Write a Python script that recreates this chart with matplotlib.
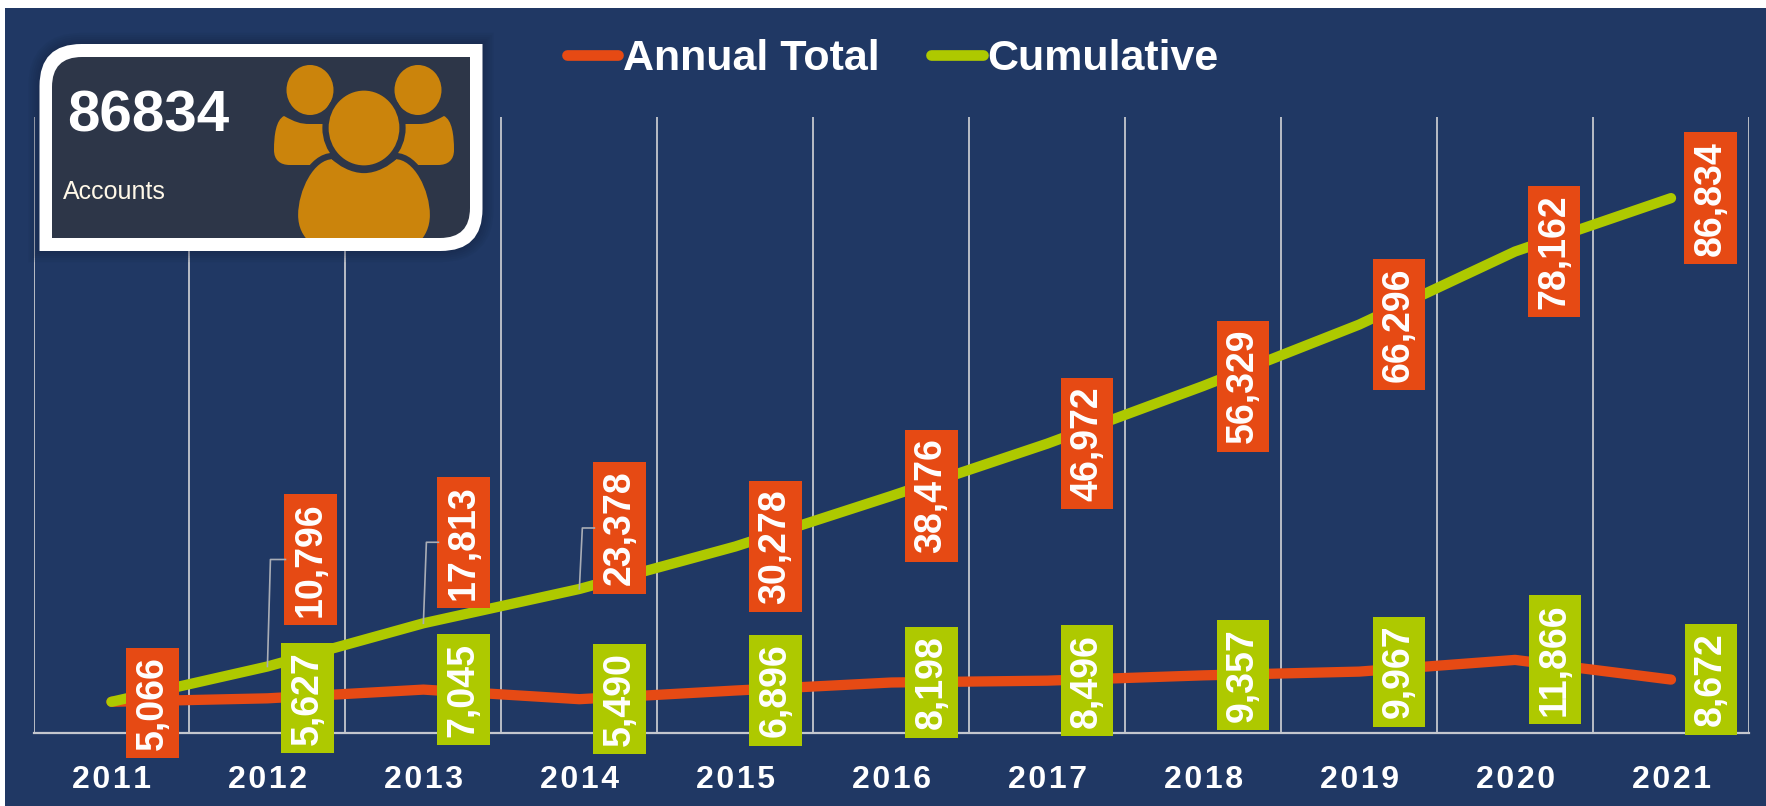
import matplotlib
matplotlib.use("Agg")
import matplotlib.pyplot as plt
from matplotlib.patches import Ellipse, PathPatch, Rectangle
from matplotlib.path import Path

years = ["2011", "2012", "2013", "2014", "2015", "2016", "2017", "2018", "2019", "2020", "2021"]
annual = [5066, 5627, 7045, 5490, 6896, 8198, 8496, 9357, 9967, 11866, 8672]
cumulative = [5066, 10796, 17813, 23378, 30278, 38476, 46972, 56329, 66296, 78162, 86834]

W, H = 1766, 806
NAVY = "#203864"
RED = "#E64A14"
GREEN = "#AEC900"
CARD = "#2D3648"
GOLD = "#CB840C"
GRID = "#C4C7CE"

plt.rcParams["font.family"] = ["Liberation Sans", "DejaVu Sans"]

fig = plt.figure(figsize=(W / 100, H / 100), dpi=100, facecolor="white")

# overlay in pixel coords for background and the card
bg = fig.add_axes([0, 0, 1, 1], zorder=0)
bg.set_xlim(0, W)
bg.set_ylim(H, 0)
bg.axis("off")
bg.add_patch(Rectangle((4.5, 8), W, H, color=NAVY, lw=0))

# main chart, y 0..100000 between pixel rows 733 and 117
ax = fig.add_axes([33.5 / W, 1 - 733 / H, 1715.5 / W, 616 / H], zorder=1)
ax.patch.set_visible(False)
x = [i + 0.5 for i in range(len(years))]
ax.set_xlim(0, 11)
ax.set_ylim(0, 100000)
ax.set_yticks([])
ax.set_xticks(range(12))
ax.set_xticklabels([])
ax.tick_params(axis="x", which="major", length=0)
ax.set_xticks(x, minor=True)
ax.set_xticklabels(["\u200a".join(y) for y in years], minor=True, color="white",
                   fontweight="bold", fontsize=23)
ax.tick_params(axis="x", which="minor", length=0, pad=23)
ax.grid(axis="x", color=GRID, lw=1.3)
ax.set_axisbelow(True)
for s in ["top", "right", "left"]:
    ax.spines[s].set_visible(False)
ax.spines["bottom"].set_color(GRID)
ax.spines["bottom"].set_linewidth(1.6)

ax.plot(x, annual, color=RED, lw=7.4, solid_capstyle="round", solid_joinstyle="round",
        label="Annual Total", zorder=3)
ax.plot(x, cumulative, color=GREEN, lw=7.4, solid_capstyle="round", solid_joinstyle="round",
        label="Cumulative", zorder=4)

leg = fig.legend(*ax.get_legend_handles_labels(), ncol=2, frameon=False,
                 labelcolor="white", prop={"weight": "bold", "size": 31},
                 handlelength=1.19, handletextpad=0.12, columnspacing=1.19,
                 loc="center", bbox_to_anchor=(893 / W, 1 - 59 / H))
leg.set_zorder(5)
for h in leg.get_lines():
    h.set_linewidth(7.7)


def box_label(xp, yp, value, color, dy=0, dx=40):
    ax.annotate(f"{value:,}", (xp, yp), xytext=(dx, -dy), textcoords="offset pixels",
                rotation=90, ha="center", va="center", rotation_mode="default",
                color="white", fontweight="bold", fontsize=27, zorder=6,
                bbox=dict(boxstyle="square,pad=0.22", fc=color, ec="none"))


# labels sit 40 px right of their point, three were dragged up with leader lines
red_dy = [1, -107, -81, -61, 0, 0, 0, 0, 0, 0, 0]
red_dx = [41, 43, 40, 40, 40, 40, 40, 40, 40, 39, 39.5]
for xp, v, dy, dx in zip(x, cumulative, red_dy, red_dx):
    box_label(xp, v, v, RED, dy, dx)
for xp, v in zip(x[1:], annual[1:]):
    box_label(xp, v, v, GREEN)

# leader lines, from the data point up to the box edge
for i, dy, dx in [(1, -107, 43), (2, -81, 40), (3, -61, 40)]:
    px, py = ax.transData.transform((x[i], cumulative[i]))
    py = H - py
    bg_line = [(px, py), (px + 3, py + dy), (px + dx - 25, py + dy)]
    fig.add_artist(plt.Line2D([p[0] / W for p in bg_line], [1 - p[1] / H for p in bg_line],
                              color="#A9ADB5", lw=1.2, zorder=2))

# card on its own axes above the chart
cd = fig.add_axes([0, 0, 1, 1], zorder=4)
cd.set_xlim(0, W)
cd.set_ylim(H, 0)
cd.axis("off")
cd.patch.set_visible(False)


def card_path(x0, y0, x1, y1, r):
    verts = [(x0 + r, y0), (x1, y0), (x1, y1 - r), (x1, y1), (x1 - r, y1), (x0, y1),
             (x0, y0 + r), (x0, y0), (x0 + r, y0), (x0 + r, y0)]
    codes = [Path.MOVETO, Path.LINETO, Path.LINETO, Path.CURVE3, Path.CURVE3, Path.LINETO,
             Path.LINETO, Path.CURVE3, Path.CURVE3, Path.CLOSEPOLY]
    return Path(verts, codes)


for grow in range(16, 0, -3):
    cd.add_patch(PathPatch(card_path(39.5, 44, 482.5, 251, 42), fc="none", ec="#101C38",
                           lw=grow, alpha=0.07))
cd.add_patch(PathPatch(card_path(39.5, 44, 482.5, 251, 42), fc="white", ec="none"))
inner = PathPatch(card_path(52, 57, 470, 238, 30), fc=CARD, ec="none")
cd.add_patch(inner)

cd.text(67, 132, "86834", color="white", fontweight="bold", fontsize=42, va="baseline")
cd.text(63, 199, "Accounts", color="#FFF8E8", fontsize=18, va="baseline")

# people icon
M, L, C, Z = Path.MOVETO, Path.LINETO, Path.CURVE4, Path.CLOSEPOLY
left_body = [(284, 116), (295, 122), (300, 124), (310, 124), (335, 124), (335, 165), (290, 165),
             (280, 165), (274, 160), (274, 150), (274, 135), (276, 120), (284, 116), (284, 116)]
side_codes = [M, C, C, C, L, L, L, C, C, C, C, C, C, Z]
right_body = [(728 - px, py) for px, py in left_body]
center_body = [(333, 156), (340, 163), (352, 170), (364, 170), (376, 170), (388, 163), (395, 156),
               (417, 156), (433, 190), (433, 215), (433, 228), (428, 238), (420, 246),
               (309, 246), (300, 238), (295, 228), (295, 215), (295, 190), (311, 156), (333, 156),
               (333, 156)]
center_codes = [M, C, C, C, C, C, C, C, C, C, C, C, C, L, C, C, C, C, C, C, Z]

parts = [
    Ellipse((310, 90), 47, 50, fc=GOLD, ec="none"),
    Ellipse((418, 90), 47, 50, fc=GOLD, ec="none"),
    PathPatch(Path(left_body, side_codes), fc=GOLD, ec="none"),
    PathPatch(Path(right_body, side_codes), fc=GOLD, ec="none"),
    PathPatch(Path(center_body, center_codes), fc=GOLD, ec=CARD, lw=4.5),
    Ellipse((364, 128), 77, 81, fc=GOLD, ec=CARD, lw=4.5),
]
for p in parts:
    cd.add_patch(p)
    p.set_clip_path(inner)

fig.savefig("out.png", dpi=100, facecolor=fig.get_facecolor())
